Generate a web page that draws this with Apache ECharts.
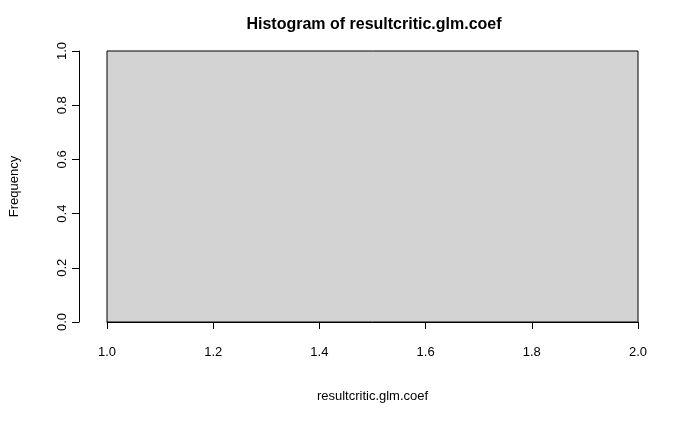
<!DOCTYPE html>
<html>
<head>
<meta charset="UTF-8">
<script src="https://cdn.jsdelivr.net/npm/echarts@6/dist/echarts.min.js"></script>
<style>html,body{margin:0;padding:0;background:#fff}</style>
</head>
<body>
<div id="chart" style="width:700px;height:432px;"></div>
<script>
// histogram bins: [start, end, count]
var binStarts = [1.0];
var binEnds = [2.0];
var counts = [1];
var xTicks = [1.0, 1.2, 1.4, 1.6, 1.8, 2.0];

var font = 'Liberation Sans, Arial, sans-serif';
var chart = echarts.init(document.getElementById('chart'));
var data = binStarts.map(function (s, i) { return [s, binEnds[i], counts[i]]; });

chart.setOption({
    animation: false,
    title: {
        text: 'Histogram of resultcritic.glm.coef',
        left: 369, top: 12, textAlign: 'center',
        textStyle: {fontFamily: font, fontSize: 16, fontWeight: 'bold', color: '#000'}
    },
    grid: {left: 100, right: 62, top: 51, bottom: 110},
    xAxis: {
        type: 'value', min: 1, max: 2, interval: 0.2, offset: 14,
        name: 'resultcritic.glm.coef', nameLocation: 'middle', nameGap: 54,
        nameTextStyle: {fontFamily: font, fontSize: 13, color: '#000'},
        axisLine: {show: true, lineStyle: {color: '#000'}},
        axisTick: {show: true, length: 7, lineStyle: {color: '#000'}},
        axisLabel: {fontFamily: font, fontSize: 13, color: '#000', margin: 10,
            formatter: function (v) { return v.toFixed(1); }},
        splitLine: {show: false}
    },
    yAxis: {
        type: 'value', min: 0, max: 1, interval: 0.2, offset: 28,
        name: 'Frequency', nameLocation: 'middle', nameGap: 58,
        nameTextStyle: {fontFamily: font, fontSize: 13, color: '#000'},
        axisLine: {show: true, lineStyle: {color: '#000'}},
        axisTick: {show: true, length: 7, lineStyle: {color: '#000'}},
        axisLabel: {fontFamily: font, fontSize: 13, color: '#000', rotate: 90, margin: 10,
            formatter: function (v) { return v.toFixed(1); }},
        splitLine: {show: false}
    },
    series: [{
        type: 'custom',
        data: data,
        renderItem: function (params, api) {
            var p0 = api.coord([api.value(0), api.value(2)]);
            var p1 = api.coord([api.value(1), 0]);
            return {
                type: 'rect',
                shape: {x: p0[0], y: p0[1], width: p1[0] - p0[0], height: p1[1] - p0[1]},
                style: {fill: '#d3d3d3', stroke: '#000', lineWidth: 1}
            };
        }
    }]
});
</script>
</body>
</html>
